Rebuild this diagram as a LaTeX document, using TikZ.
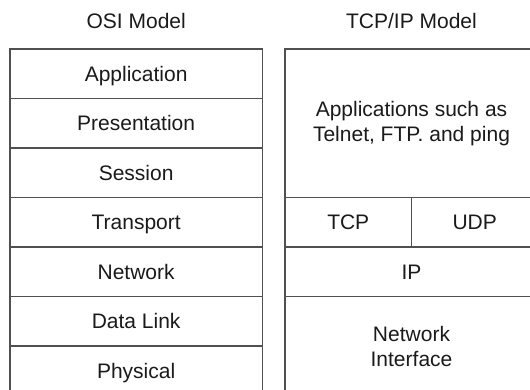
\documentclass[tikz,border=0pt]{standalone}
\usepackage{fontspec}
\setmainfont{Liberation Sans}
\definecolor{rulegray}{HTML}{505050}
\definecolor{inkblack}{HTML}{1A1A1A}
\begin{document}
\begin{tikzpicture}[x=1pt,y=-1pt,
  layer/.style={draw=rulegray, line width=1.2pt, rectangle, inner sep=0pt,
    outer sep=0pt, anchor=north west, align=center,
    font=\fontsize{21}{25}\selectfont, text=inkblack},
  oneline/.style={text height=15pt, text depth=0pt},
  coltitle/.style={font=\fontsize{21}{25}\selectfont, text=inkblack,
    anchor=base, inner sep=0pt}]
\useasboundingbox (0,0) rectangle (530,390);
\clip (0,0) rectangle (530,390);

% column headings
\node[coltitle] (osiT) at (136.2,29) {OSI Model};
\node[coltitle] (tcpT) at (411.5,29) {TCP/IP Model};

% OSI stack, seven layers
\begin{scope}[every node/.append style={layer, oneline,
    minimum width=252.3pt, minimum height=49.5pt}]
  \node (app)  at (10,49)    {Application};
  \node (pres) at (10,98.5)  {Presentation};
  \node (sess) at (10,148)   {Session};
  \node (tran) at (10,197.5) {Transport};
  \node (netw) at (10,247)   {Network};
  \node (dlnk) at (10,296.5) {Data Link};
  \node (phys) at (10,346)   {Physical};
\end{scope}

% TCP/IP stack
\node[layer, minimum width=253pt, minimum height=148.5pt] (apps) at (285,49)
  {Applications such as\\Telnet, FTP. and ping};
\node[layer, oneline, minimum width=126.5pt, minimum height=49.5pt] (tcp) at (285,197.5) {TCP};
\node[layer, oneline, minimum width=126.5pt, minimum height=49.5pt] (udp) at (411.5,197.5) {UDP};
\node[layer, oneline, minimum width=253pt, minimum height=49.5pt] (ip) at (285,247) {IP};
\node[layer, minimum width=253pt, minimum height=99pt] (nif) at (285,296.5)
  {Network\\Interface};
\end{tikzpicture}
\end{document}
